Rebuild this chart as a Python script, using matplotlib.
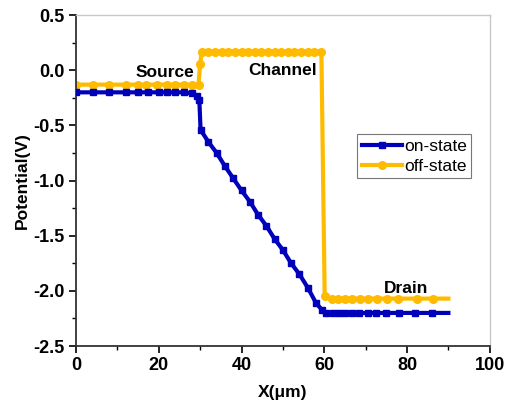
import matplotlib
matplotlib.use("Agg")
import matplotlib.pyplot as plt
from matplotlib.ticker import MultipleLocator

plt.rcParams['font.family'] = ['Liberation Sans', 'DejaVu Sans']

on_x = [0, 4, 8, 12, 15, 17.5, 20, 22, 24, 26, 28, 29.3, 29.8, 30.1, 32, 34, 36, 38,
        40, 42, 44, 46, 48, 50, 52, 54, 56, 58, 59.4, 60.4, 62, 63.5, 65, 66.7, 68.5,
        70.5, 72.5, 75, 78, 82, 86, 90]
on_y = [-0.20, -0.20, -0.20, -0.20, -0.20, -0.20, -0.20, -0.20, -0.20, -0.20, -0.21,
        -0.23, -0.27, -0.54, -0.65, -0.75, -0.87, -0.98, -1.09, -1.19, -1.31, -1.41,
        -1.53, -1.63, -1.75, -1.85, -1.97, -2.11, -2.17, -2.20, -2.20, -2.20, -2.20,
        -2.20, -2.20, -2.20, -2.20, -2.20, -2.20, -2.20, -2.20, -2.20]

off_x = [0, 4, 8, 12, 15, 17, 19.5, 22, 24, 26, 28, 29.6, 30.0, 30.4, 32.0, 33.6,
         35.2, 36.8, 38.4, 40.0, 41.6, 43.2, 44.8, 46.4, 48.0, 49.6, 51.2, 52.8, 54.4,
         56.0, 57.6, 59.3, 60.1, 61.8, 63.3, 65.0, 66.7, 68.6, 70.5, 72.7, 75.1, 77.8,
         82.4, 86.2, 90]
off_y = [-0.13, -0.13, -0.13, -0.13, -0.13, -0.13, -0.13, -0.13, -0.13, -0.13, -0.13,
         -0.13, 0.06, 0.17, 0.17, 0.17, 0.17, 0.17, 0.17, 0.17, 0.17, 0.17, 0.17, 0.17,
         0.17, 0.17, 0.17, 0.17, 0.17, 0.17, 0.17, 0.17, -2.05, -2.07, -2.07, -2.07,
         -2.07, -2.07, -2.07, -2.07, -2.07, -2.07, -2.07, -2.07, -2.07]

labels = ["on-state", "off-state"]
regions = ["Source", "Channel", "Drain"]
region_x = [21.5, 50.0, 79.7]
region_y = [-0.02, 0.0, -1.975]
xticks = [0, 20, 40, 60, 80, 100]
xticklabels = ['0', '20', '40', '60', '80', '100']
yticks = [-2.5, -2.0, -1.5, -1.0, -0.5, 0.0, 0.5]
yticklabels = ['-2.5', '-2.0', '-1.5', '-1.0', '-0.5', '0.0', '0.5']

fig = plt.figure(figsize=(5.07, 4.09), dpi=100)
ax = fig.add_axes([0.150, 0.154, 0.816, 0.809])

blue = '#0000BB'
orange = '#FFBB00'
ax.plot(on_x, on_y, color=blue, lw=3.0, marker='s', ms=5, markevery=list(range(len(on_x) - 1)),
        label=labels[0], zorder=3)
ax.plot(off_x, off_y, color=orange, lw=3.0, marker='o', ms=5.5, markevery=list(range(len(off_x) - 1)),
        label=labels[1], zorder=2)

for t, xx, yy in zip(regions, region_x, region_y):
    ax.text(xx, yy, t, ha='center', va='center', fontsize=12.5, fontweight='bold')

ax.set_xlim(0, 100)
ax.set_ylim(-2.5, 0.5)
ax.set_xticks(xticks, xticklabels, fontweight='bold', fontsize=13)
ax.set_yticks(yticks, yticklabels, fontweight='bold', fontsize=13)
ax.xaxis.set_minor_locator(MultipleLocator(10))
ax.yaxis.set_minor_locator(MultipleLocator(0.25))
ax.tick_params(which='major', direction='out', length=5, width=1.2, pad=3)
ax.tick_params(which='minor', direction='out', length=3, width=1.0)
ax.tick_params(top=False, right=False, which='both')

for s in ['left', 'bottom']:
    ax.spines[s].set_color('#333333')
    ax.spines[s].set_linewidth(1.3)
for s in ['top', 'right']:
    ax.spines[s].set_color('#C8C8C8')
    ax.spines[s].set_linewidth(1.0)

ax.set_xlabel('X(μm)', fontsize=12.5, fontweight='bold', labelpad=8)
ax.set_ylabel('Potential(V)', fontsize=12.5, fontweight='bold', labelpad=3)

leg = ax.legend(loc='upper left', bbox_to_anchor=(0.680, 0.640), fontsize=12.5,
                frameon=True, fancybox=False, handlelength=2.3, handletextpad=0.15,
                borderpad=0.25, labelspacing=0.3, borderaxespad=0)
leg.get_frame().set_edgecolor('#555555')
leg.get_frame().set_linewidth(0.8)

fig.savefig('out.png', dpi=100)
